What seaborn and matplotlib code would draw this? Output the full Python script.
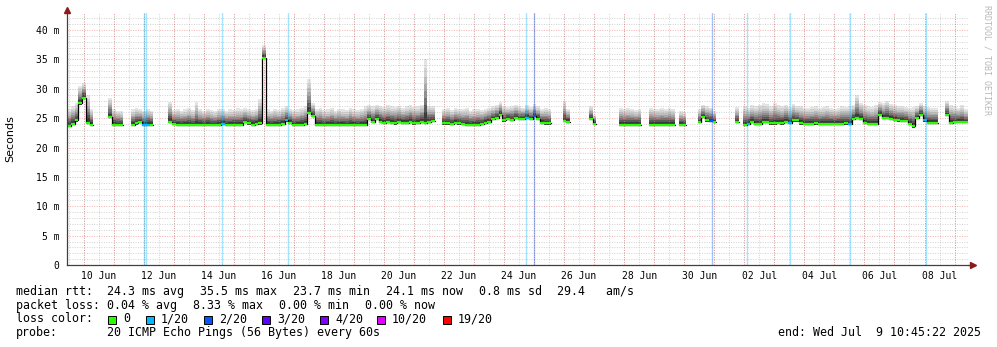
import numpy as np
import pandas as pd
import matplotlib
matplotlib.use("Agg")
import matplotlib.pyplot as plt
import matplotlib.dates as mdates
from matplotlib.patches import Rectangle
import seaborn as sns

N = np.nan
start_time = "2025-06-09 10:45:22"
end_time = "2025-07-09 10:45:22"
step_hours = 3

# median rtt (ms), one value per 3 hours, NaN = no data
median_ms = [
    23.7, 24.0, 24.6, 27.5, 28.5, 24.2, 23.9,
    N, N, N, N,
    25.2,
    23.9, 23.8, 23.8,
    N, N,
    23.8, 24.1, 24.3, 23.9, 23.9, 23.9,
    N, N, N, N,
    24.4,
    24.0, 23.8, 23.8, 23.8, 23.9, 23.8, 23.8, 23.9,
    23.8, 23.9, 23.8, 23.8, 23.9, 24.0,
    23.8, 23.8, 23.9, 23.8, 23.9, 24.3,
    24.1, 23.9, 24.0, 24.1,
    35.3,
    23.8, 23.8, 23.8, 23.9, 24.0,
    24.6, 24.2,
    23.8, 23.8, 23.9, 24.0,
    25.9, 25.4,
    23.9, 23.8, 23.8, 23.8, 23.9, 23.8, 23.8, 23.8, 23.8, 23.9, 23.8, 23.8, 23.8, 23.9,
    24.8, 24.3, 24.8,
    24.4, 24.2, 24.3, 24.2, 24.1, 24.3, 24.2, 24.2, 24.4, 24.1, 24.2, 24.3, 24.2, 24.4, 24.5,
    N, N,
    24.1, 24.1, 24.0, 24.2, 24.1, 24.0, 23.9, 23.8, 23.8, 23.9, 24.0,
    24.2, 24.4, 24.8, 25.0, 25.6,
    24.6, 24.9, 24.7, 25.0, 24.8, 24.9, 25.1, 24.8, 25.4, 24.9,
    24.2, 24.1, 24.1,
    N, N, N,
    24.5, 24.4,
    N, N, N, N, N,
    24.9, 24.0,
    N, N, N, N, N, N,
    23.9, 23.9, 23.9, 23.9, 23.9, 23.9,
    N, N,
    23.9, 23.9, 23.9, 23.9, 23.9, 23.9, 23.9,
    N,
    23.9, 23.9,
    N, N, N,
    24.3, 25.2, 24.6, 24.5, 24.4,
    N, N, N, N, N,
    24.3,
    N,
    23.9, 24.0, 24.3, 24.0,
    24.0, 24.3, 24.3, 24.1,
    24.1, 24.2, 24.1, 24.4,
    24.2, 24.6, 24.6,
    24.1, 24.0, 24.0, 24.0, 24.1, 24.0, 24.0, 24.0, 24.0,
    24.0, 24.0, 24.0, 24.1, 24.0,
    24.8, 25.0, 24.9,
    24.2,
    24.0, 24.0, 24.0,
    25.6,
    25.1, 25.1, 24.9,
    24.7, 24.6, 24.5, 24.5,
    24.0, 23.6, 25.0, 25.6, 24.6, 24.2, 24.2, 24.2,
    N, N,
    25.5, 24.2, 24.3, 24.4, 24.3, 24.3,
]

# top of the smoke (highest ping, ms)
smoke_top_ms = [
    26.5, 27.0, 27.6, 30.5, 31.0, 29.0, 26.5,
    N, N, N, N,
    28.5,
    26.5, 26.3, 26.2,
    N, N,
    26.5, 26.8, 26.5, 26.3, 26.6, 26.3,
    N, N, N, N,
    27.8,
    26.4, 26.6, 26.3, 26.5, 26.7, 26.4, 27.7, 26.5,
    26.3, 26.6, 26.4, 26.2, 26.5, 26.6,
    26.3, 26.5, 26.4, 26.7, 26.6, 26.8,
    26.5, 26.4, 26.6, 28.2,
    37.5,
    26.5, 26.3, 26.6, 26.4, 26.7,
    27.0, 26.6,
    26.4, 26.5, 26.7, 27.0,
    31.7, 27.6,
    26.6, 26.8, 26.4, 26.5, 26.7, 26.3, 26.6, 26.5, 26.4, 26.8, 26.5, 26.4, 26.6, 27.0,
    27.2, 27.0, 27.3,
    27.1, 26.9, 27.2, 27.0, 26.9, 27.1, 26.8, 27.0, 27.2, 26.9, 27.0, 27.3, 35.0, 27.1, 27.0,
    N, N,
    26.5, 26.7, 26.4, 26.8, 26.6, 26.5, 26.7, 26.3, 26.5, 26.6, 26.4,
    26.6, 26.8, 27.0, 27.3, 27.8,
    27.0, 26.9, 27.1, 27.3, 27.0, 26.8, 27.2, 26.9, 27.4, 27.0,
    26.6, 26.8, 26.5,
    N, N, N,
    28.0, 26.6,
    N, N, N, N, N,
    27.0, 25.6,
    N, N, N, N, N, N,
    26.8, 26.5, 26.7, 26.6, 26.4, 26.6,
    N, N,
    26.8, 26.6, 26.5, 26.7, 26.6, 26.8, 26.5,
    N,
    26.2, 26.0,
    N, N, N,
    26.5, 27.3, 27.0, 26.8, 26.2,
    N, N, N, N, N,
    26.9,
    N,
    27.0, 26.8, 27.2, 27.0,
    27.3, 27.5, 27.4, 27.0,
    27.6, 27.2, 27.1, 27.3,
    26.9, 27.4, 27.0,
    27.1, 26.8, 26.8, 26.9, 27.0, 26.8, 26.9, 27.0, 26.8,
    26.6, 26.8, 27.0, 26.9, 27.0,
    27.3, 28.9, 27.6,
    27.3,
    27.0, 26.9, 27.2,
    27.8,
    27.5, 28.0, 27.4,
    27.2, 27.0, 27.1, 26.9,
    26.8, 26.9, 27.1, 27.6, 27.0, 26.9, 26.8, 26.8,
    N, N,
    28.0, 27.2, 27.0, 26.8, 27.2, 26.5,
]

loss_times = ["2025-06-12 00:20", "2025-06-12 01:55", "2025-06-14 14:45",
              "2025-06-16 19:30", "2025-06-24 17:10", "2025-06-25 00:20",
              "2025-06-30 22:20", "2025-07-02 01:50", "2025-07-03 12:20",
              "2025-07-05 12:20", "2025-07-08 01:10"]
loss_levels = ["1/20", "1/20", "1/20", "1/20", "1/20", "2/20",
               "2/20", "1/20", "1/20", "1/20", "1/20"]

loss_names = ["0", "1/20", "2/20", "3/20", "4/20", "10/20", "19/20"]
loss_colors = ["#26ff00", "#00b8ff", "#0059ff", "#5e00ff", "#7e00ff", "#dd00ff", "#ff0000"]

ytick_vals = [0, 5, 10, 15, 20, 25, 30, 35, 40]
ytick_labels = ["0", "5 m", "10 m", "15 m", "20 m", "25 m", "30 m", "35 m", "40 m"]

legend_rows = [
    [(16, "median rtt:"), (107, "24.3 ms avg"), (200, "35.5 ms max"), (293, "23.7 ms min"),
     (386, "24.1 ms now"), (479, "0.8 ms sd"), (557, "29.4   am/s")],
    [(16, "packet loss:"), (107, "0.04 % avg"), (193, "8.33 % max"), (279, "0.00 % min"),
     (365, "0.00 % now")],
    [(16, "loss color:")],
    [(16, "probe:"), (107, "20 ICMP Echo Pings (56 Bytes) every 60s"),
     (778, "end: Wed Jul  9 10:45:22 2025")],
]
legend_y = [291.5, 305.2, 319.0, 332.8]
square_x = [108, 146, 204, 262, 320, 377, 443]

# ---------------------------------------------------------------- figure
sns.set_theme(style="white")
plt.rcParams["font.family"] = ["DejaVu Sans Mono", "DejaVu Sans"]
W, H = 997, 347
fig = plt.figure(figsize=(W / 100, H / 100), dpi=100)
fig.patch.set_facecolor("white")
ax = fig.add_axes([67 / W, (H - 265) / H, (968 - 67) / W, (265 - 13) / H])
ax.set_facecolor("white")

med = np.array(median_ms, dtype=float)
top = np.array(smoke_top_ms, dtype=float)
n = len(med)
t0 = pd.Timestamp(start_time)
times = t0 + pd.to_timedelta(np.arange(n) * step_hours, unit="h")
left = mdates.date2num(times.to_pydatetime())
right = mdates.date2num((times + pd.Timedelta(hours=step_hours)).to_pydatetime())

xs = np.column_stack([left, right]).ravel()
ym = np.repeat(med, 2)
yt = np.repeat(top, 2)

# smoke layers (outer light -> inner dark)
fracs = [1.0, 0.86, 0.73, 0.61, 0.50, 0.39, 0.28, 0.17]
greys = ["#e4e4e4", "#d2d2d2", "#bebebe", "#a8a8a8", "#8f8f8f", "#757575", "#585858", "#3a3a3a"]
for f, c in zip(fracs, greys):
    ax.fill_between(xs, ym - 0.2, ym + (yt - ym) * f, color=c, lw=0, zorder=1)

# grid (drawn over the smoke, like rrdtool)
x0 = mdates.date2num(pd.Timestamp(start_time).to_pydatetime())
x1 = mdates.date2num(pd.Timestamp(end_time).to_pydatetime())
minor_v = pd.date_range("2025-06-09 12:00", "2025-07-09 00:00", freq="12h")
major_v = pd.date_range("2025-06-10 00:00", "2025-07-09 00:00", freq="D")
gkw_min = dict(color="#9a9a9a", lw=0.7, ls=(0, (1, 1.5)), alpha=0.45, zorder=2)
gkw_maj = dict(color="#e05050", lw=0.7, ls=(0, (1, 1.5)), alpha=0.45, zorder=2.1)
for d in minor_v:
    ax.axvline(mdates.date2num(d.to_pydatetime()), **gkw_min)
for v in range(1, 43):
    if v % 5:
        ax.axhline(v, **gkw_min)
for d in major_v:
    ax.axvline(mdates.date2num(d.to_pydatetime()), **gkw_maj)
for v in range(5, 41, 5):
    ax.axhline(v, **gkw_maj)

# loss lines
lc = dict(zip(loss_names, loss_colors))
for t, lv in zip(loss_times, loss_levels):
    ax.axvline(mdates.date2num(pd.Timestamp(t).to_pydatetime()), color=lc[lv],
               lw=1.0, alpha=0.36, zorder=3)

# median: black verticals (step), coloured horizontals
valid = ~np.isnan(med)
seg = np.cumsum(np.r_[True, valid[1:] != valid[:-1]])
rows = []
for i in range(n):
    if valid[i]:
        rows.append((left[i], med[i], seg[i]))
        rows.append((right[i], med[i], seg[i]))
df = pd.DataFrame(rows, columns=["x", "y", "seg"])
sns.lineplot(data=df, x="x", y="y", units="seg", estimator=None, sort=False,
             color="black", lw=0.9, ax=ax, legend=False, zorder=4)

bin_col = [lc["0"]] * n
for t, lv in zip(loss_times, loss_levels):
    xt = mdates.date2num(pd.Timestamp(t).to_pydatetime())
    k = int(np.searchsorted(left, xt) - 1)
    if 0 <= k < n:
        bin_col[k] = lc[lv]
ax.hlines(med, left, right, colors=bin_col, lw=1.6, zorder=5)

ax.set_xlim(x0, x1)
ax.set_ylim(0, 42.9)
ax.set_xlabel("")
ax.set_ylabel("")

xt_pos = pd.date_range("2025-06-10 12:00", "2025-07-08 12:00", freq="2D")
ax.set_xticks(mdates.date2num(xt_pos.to_pydatetime()))
ax.set_xticklabels([d.strftime("%d %b") for d in xt_pos])
ax.set_yticks(ytick_vals)
ax.set_yticklabels(ytick_labels)
ax.tick_params(axis="both", length=0, labelsize=7, colors="#000000")
ax.tick_params(axis="x", pad=4)
ax.tick_params(axis="y", pad=5.5)
for lab in ax.get_xticklabels() + ax.get_yticklabels():
    lab.set_family("DejaVu Sans Mono")

for s in ["top", "right"]:
    ax.spines[s].set_visible(False)
for s in ["left", "bottom"]:
    ax.spines[s].set_color("#404040")
    ax.spines[s].set_linewidth(0.9)
    ax.spines[s].set_zorder(6)

# axis arrows
ax.plot([1.0, 1.004], [0, 0], color="#404040", lw=0.9, transform=ax.transAxes, clip_on=False, zorder=6)
ax.plot([1.005], [0], marker=">", ms=4, color="#8b1a1a", transform=ax.transAxes, clip_on=False, zorder=7)
ax.plot([0], [1.012], marker="^", ms=4, color="#8b1a1a", transform=ax.transAxes, clip_on=False, zorder=7)

# y label and watermark
fig.text(10 / W, 1 - 139 / H, "Seconds", rotation=90, ha="center", va="center",
         fontsize=8, family="DejaVu Sans", color="#000000")
fig.text(987 / W, 1 - 60 / H, "RRDTOOL / TOBI OETIKER", rotation=270, ha="center",
         va="center", fontsize=6, family="DejaVu Sans Mono", color="#b8b8b8")

# legend
for row, yc in zip(legend_rows, legend_y):
    for xp, txt in row:
        fig.text(xp / W, 1 - yc / H, txt, ha="left", va="center", fontsize=8.4,
                 family="DejaVu Sans Mono", color="#000000")
for xp, name, col in zip(square_x, loss_names, loss_colors):
    fig.patches.append(Rectangle((xp / W, 1 - 323.5 / H), 8 / W, 8 / H, transform=fig.transFigure,
                                 facecolor=col, edgecolor="#000000", lw=0.7, figure=fig))
    fig.text((xp + 15) / W, 1 - legend_y[2] / H, name, ha="left", va="center", fontsize=8.4,
             family="DejaVu Sans Mono", color="#000000")

fig.savefig("out.png", dpi=100, facecolor="white")
